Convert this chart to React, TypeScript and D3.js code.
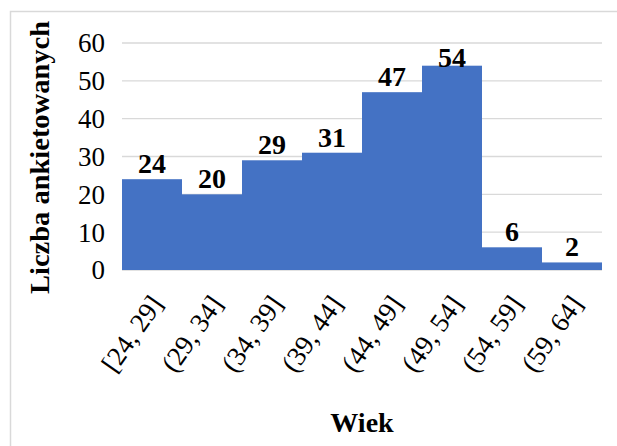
import * as d3 from "d3";
import React from "react";

const categories = ["[24, 29]", "(29, 34]", "(34, 39]", "(39, 44]", "(44, 49]", "(49, 54]", "(54, 59]", "(59, 64]"];
const counts = [24, 20, 29, 31, 47, 54, 6, 2];
const yTicks = [0, 10, 20, 30, 40, 50, 60];

const WIDTH = 617;
const HEIGHT = 446;
const FONT = "Liberation Serif";

const plot = { left: 122, right: 602, top: 43, bottom: 270 };

export default function App() {
    const x = d3.scaleBand<string>().domain(categories).range([plot.left, plot.right]).padding(0);
    const y = d3.scaleLinear().domain([0, 60]).range([plot.bottom, plot.top]);
    const bw = x.bandwidth();

    return (
        <svg
            width={WIDTH}
            height={HEIGHT}
            style={{ position: "absolute", left: 0, top: 0, background: "#fff" }}
            fontFamily={FONT}
        >
            {/* chart frame */}
            <rect x={10.5} y={11.5} width={WIDTH} height={HEIGHT} fill="#fff" stroke="#d9d9d9" strokeWidth={1.5} />

            {/* gridlines */}
            {yTicks.map((t) => (
                <line key={t} x1={plot.left} x2={plot.right} y1={y(t)} y2={y(t)} stroke="#d9d9d9" strokeWidth={1.3} />
            ))}

            {/* y tick labels */}
            {yTicks.map((t) => (
                <text key={t} x={105} y={y(t)} dy="0.35em" textAnchor="end" fontSize={27} fill="#000">
                    {t}
                </text>
            ))}

            {/* bars */}
            {counts.map((v, i) => (
                <rect
                    key={categories[i]}
                    x={x(categories[i])}
                    width={bw}
                    y={y(v)}
                    height={plot.bottom - y(v)}
                    fill="#4472c4"
                />
            ))}

            {/* data labels */}
            {counts.map((v, i) => (
                <text
                    key={categories[i]}
                    x={(x(categories[i]) as number) + bw / 2}
                    y={Math.max(y(v) - 6, plot.top + 24)}
                    textAnchor="middle"
                    fontWeight="bold"
                    fontSize={28}
                    fill="#000"
                >
                    {v}
                </text>
            ))}

            {/* x tick labels */}
            {categories.map((c) => (
                <text
                    key={c}
                    transform={`translate(${(x(c) as number) + bw / 2 + 12},304) rotate(-55)`}
                    textAnchor="end"
                    fontSize={27}
                    fill="#000"
                >
                    {c}
                </text>
            ))}

            {/* axis titles */}
            <text x={(plot.left + plot.right) / 2} y={432} textAnchor="middle" fontWeight="bold" fontSize={28}>
                Wiek
            </text>
            <text
                transform={`translate(49,${(20 + 295) / 2}) rotate(-90)`}
                textAnchor="middle"
                fontWeight="bold"
                fontSize={28}
                textLength={273}
                lengthAdjust="spacingAndGlyphs"
            >
                Liczba ankietowanych
            </text>
        </svg>
    );
}
